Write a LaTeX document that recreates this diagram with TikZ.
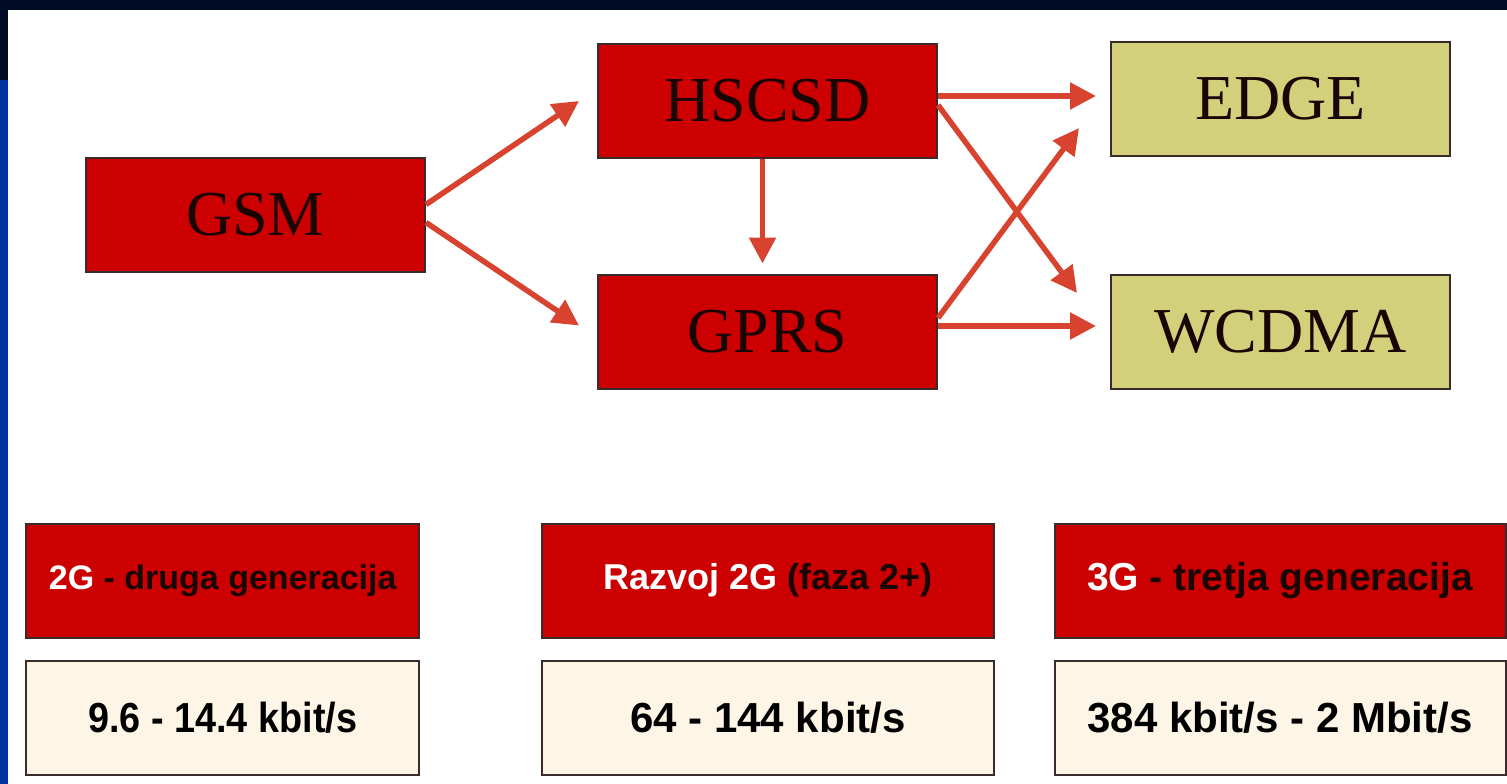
\documentclass[tikz,border=0pt]{standalone}
\usepackage{fontspec}
\setmainfont{Liberation Serif}
\setsansfont{Liberation Sans}
\usetikzlibrary{arrows.meta}
\definecolor{navy}{HTML}{000B26}
\definecolor{sideblue}{HTML}{0033A0}
\definecolor{boxred}{HTML}{CC0000}
\definecolor{boxolive}{HTML}{D3D07C}
\definecolor{boxcream}{HTML}{FDF6E6}
\definecolor{arrowred}{HTML}{D8432F}
\definecolor{edgegrey}{HTML}{3A2A2A}
\definecolor{darktext}{HTML}{1A0505}
\tikzset{
  techbox/.style={draw=edgegrey, line width=2pt, minimum width=339pt, minimum height=114pt,
    inner sep=0pt, text=darktext, font=\fontsize{64}{70}\selectfont},
  redtech/.style={techbox, fill=boxred},
  olivetech/.style={techbox, fill=boxolive},
  genbox/.style={draw=edgegrey, line width=2pt, minimum height=114pt, inner sep=0pt,
    fill=boxred, text=darktext, font=\sffamily\bfseries},
  ratebox/.style={draw=edgegrey, line width=2pt, minimum height=114pt, inner sep=0pt,
    fill=boxcream, text=black, font=\sffamily\bfseries\fontsize{42}{46}\selectfont},
  flow/.style={draw=arrowred, line width=5.5pt, -{Triangle[length=26pt,width=26pt]}},
}
\begin{document}
\begin{tikzpicture}[x=1pt,y=-1pt]
\useasboundingbox (0,0) rectangle (1507,784);
% page frame
\fill[white] (0,0) rectangle (1507,784);
\fill[sideblue] (0,80) rectangle (8,784);
\fill[navy] (0,0) rectangle (1507,10);
\fill[navy] (0,0) rectangle (8,80);

% technology boxes
\node[redtech]   (gsm)   at (255.5,214.5) {GSM};
\node[redtech]   (hscsd) at (767.5,101)   {HSCSD};
\node[redtech]   (gprs)  at (767.5,331.5) {GPRS};
\node[olivetech] (edge)  at (1280.5,99)   {EDGE};
\node[olivetech] (wcdma) at (1280.5,331.5) {WCDMA};

% connectors
\draw[flow] ([yshift=10pt]gsm.east) -- ([xshift=-18pt]hscsd.west);
\draw[flow] ([yshift=-8pt]gsm.east) -- ([xshift=-18pt,yshift=6pt]gprs.west);
\draw[flow] ([xshift=-5pt]hscsd.south) -- ([xshift=-5pt,yshift=10pt]gprs.north);
\draw[flow] ([yshift=5pt]hscsd.east) -- ([xshift=-14pt,yshift=3pt]edge.west);
\draw[flow] ([yshift=-4pt]hscsd.east) -- ([xshift=-33pt,yshift=38.5pt]wcdma.west);
\draw[flow] ([yshift=13.5pt]gprs.east) -- ([xshift=-31pt,yshift=-29pt]edge.west);
\draw[flow] ([yshift=5.5pt]gprs.east) -- ([xshift=-14pt,yshift=5.5pt]wcdma.west);

% generations and data rates
\node[genbox, minimum width=393pt, font=\sffamily\bfseries\fontsize{34}{38}\selectfont]
  (gen2) at (222.7,580.5) {\textcolor{white}{2G} - druga generacija};
\node[genbox, minimum width=452pt, font=\sffamily\bfseries\fontsize{36}{40}\selectfont]
  (gen2p) at (768,580.5) {\textcolor{white}{Razvoj 2G} (faza 2+)};
\node[genbox, minimum width=451pt, font=\sffamily\bfseries\fontsize{39}{43}\selectfont]
  (gen3) at (1280,580.5) {\textcolor{white}{3G} - tretja generacija};

\node[ratebox, minimum width=393pt] (rate2)  at (222.7,717.5) {\scalebox{0.9}[1]{9.6 - 14.4 kbit/s}};
\node[ratebox, minimum width=452pt] (rate2p) at (768,717.5)   {64 - 144 kbit/s};
\node[ratebox, minimum width=451pt] (rate3)  at (1280,717.5)  {384 kbit/s - 2 Mbit/s};
\end{tikzpicture}
\end{document}
